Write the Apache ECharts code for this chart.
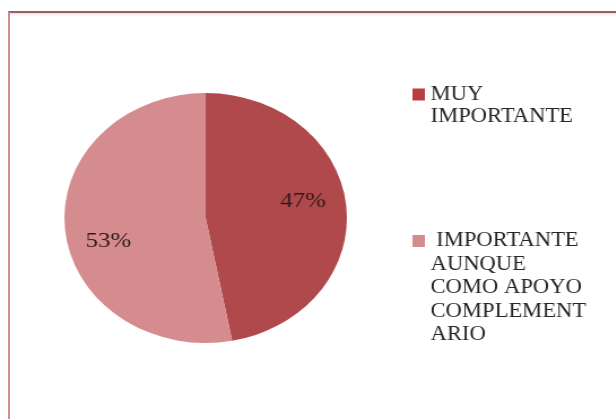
<!DOCTYPE html>
<html>
<head>
<meta charset="utf-8">
<script src="https://cdn.jsdelivr.net/npm/echarts@6/dist/echarts.min.js"></script>
<style>
  html, body { margin: 0; padding: 0; background: #fff; overflow: hidden; }
  #frame {
    position: absolute; left: 8px; top: 11px; width: 700px; height: 500px;
    border-left: 2px solid #cc9092; border-top: 2px solid #946264;
    box-shadow: inset 0 3px 3px -2px #f3d2d2;
  }
  /* the reference pie is an ellipse, so the chart is drawn narrow and stretched */
  #chart { position: absolute; left: 0; top: 0; width: 545px; height: 419px; transform: scaleX(1.13); transform-origin: 0 0; }
</style>
</head>
<body>
<div id="frame"></div>
<div id="chart"></div>
<script>
const categories = ["MUY IMPORTANTE", "IMPORTANTE AUNQUE COMO APOYO COMPLEMENTARIO"];
const legendLabels = ["MUY\nIMPORTANTE", " IMPORTANTE\nAUNQUE\nCOMO APOYO\nCOMPLEMENT\nARIO"];
const values = [47, 53];
const colors = ["#b0494b", "#d48c8f"];
const markerColors = ["#b93c42", "#d48c8f"];

const serif = "'Liberation Serif', 'DejaVu Serif', serif";
// legend text: line height and the y of the marker centre
const legendLineHeights = [22, 23.5];
const legendMarkerY = [94.5, 241];
// percent labels: blank line after / before to nudge them up / down
const labelShift = [{ text: (d) => d + "%\n", lh: 18 }, { text: (d) => "\n" + d + "%", lh: 30 }];

const chart = echarts.init(document.getElementById("chart"));

// legend text is centred on its marker; blank lines in front keep the marker on the first line
const legends = categories.map((name, i) => {
  const lines = legendLabels[i].split("\n");
  const lh = legendLineHeights[i];
  const blockH = (lines.length * 2 - 1) * lh;
  return {
    orient: "vertical",
    left: 365,
    top: legendMarkerY[i] - blockH / 2,
    padding: 0,
    itemWidth: 11,
    itemHeight: 12,
    icon: "rect",
    selectedMode: false,
    formatter: () => "\n".repeat(lines.length - 1) + legendLabels[i],
    textStyle: { fontFamily: serif, fontSize: 20, color: "#262626", lineHeight: lh },
    data: [{ name, itemStyle: { color: markerColors[i] } }],
  };
});

chart.setOption({
  animation: false,
  legend: legends,
  series: [
    {
      type: "pie",
      center: [182, 218],
      radius: [0, 125],
      startAngle: 90,
      clockwise: true,
      silent: true,
      label: { show: false },
      labelLine: { show: false },
      data: categories.map((name, i) => ({ name, value: values[i], itemStyle: { color: colors[i] } })),
    },
    {
      // transparent copy, only to place the percent labels further out than the mid radius
      type: "pie",
      center: [182, 218],
      radius: [0, 167],
      startAngle: 90,
      clockwise: true,
      silent: true,
      itemStyle: { color: "rgba(0,0,0,0)" },
      labelLine: { show: false },
      data: categories.map((name, i) => ({
        name,
        value: values[i],
        label: {
          show: true,
          position: "inside",
          formatter: (p) => labelShift[i].text(Math.round(p.percent)),
          fontFamily: serif,
          fontSize: 22,
          lineHeight: labelShift[i].lh,
          color: "#321a1b",
        },
      })),
    },
  ],
});
</script>
</body>
</html>
